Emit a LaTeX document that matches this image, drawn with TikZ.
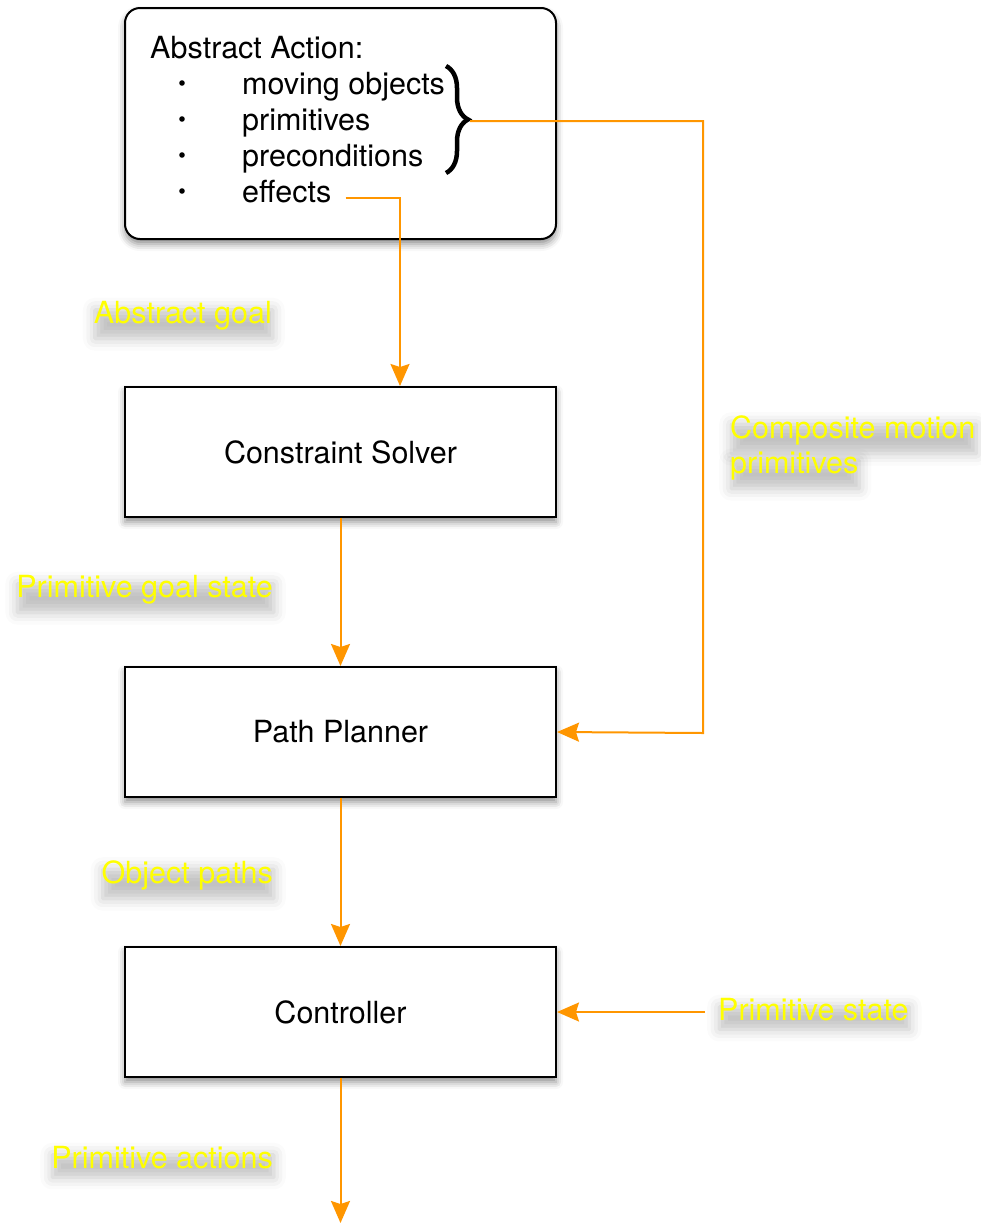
\documentclass[tikz,border=0pt]{standalone}
\usepackage{fontspec}
\setmainfont{TeX Gyre Heros}
\usetikzlibrary{arrows.meta,calc,decorations.pathreplacing,shadows.blur}

\definecolor{floworange}{RGB}{255,150,0}
\definecolor{labelyellow}{RGB}{255,255,0}

\begin{document}
\begin{tikzpicture}[x=1pt,y=-1pt,
  box/.style={draw=black, line width=2pt, fill=white, minimum width=431pt, minimum height=130pt,
    font=\fontsize{30.5}{36}\selectfont,
    blur shadow={shadow xshift=0pt, shadow yshift=-5pt, shadow blur radius=7pt, shadow opacity=45}},
  txt/.style={inner sep=0pt, font=\fontsize{30.5}{36}\selectfont},
  lbl/.style={inner sep=0pt, text=labelyellow, draw=white, draw opacity=0,
    font=\fontsize{30.5}{36}\selectfont,
    blur shadow={shadow xshift=1pt, shadow yshift=-9pt, shadow blur radius=12pt, shadow opacity=24}},
  flow/.style={draw=floworange, line width=2pt, -{Stealth[length=22pt,width=19pt,inset=3pt]}}]
  \useasboundingbox (0,0) rectangle (981,1224);

  % boxes
  \node[box, rounded corners=15pt, minimum height=231pt] (act) at (340.5,123.5) {};
  \node[box] (cs) at (340.5,452) {Constraint Solver};
  \node[box] (pp) at (340.5,732) {Path Planner};
  \node[box] (ctl) at (340.5,1012) {Controller};

  % abstract action text
  \node[txt, anchor=base west] (head) at (150,58) {Abstract Action:};
  \foreach \name/\y/\item in {mov/94/moving objects, prim/130/primitives, pre/166/preconditions, eff/202/effects}{
    \fill (182,\y-11) circle (2.8);
    \node[txt, anchor=base west] (\name) at (242,\y) {\item};
  }
  \draw[decorate, decoration={brace, amplitude=22pt}, line width=4.5pt] (446,66) -- (446,173);
  \coordinate (brace) at (470,121);
  \coordinate (turn) at (703,733);
  \coordinate (out) at (340.5,1223);

  % connectors
  \draw[flow] ([shift={(14,-4)}]eff.base east) -| ([xshift=59.5]cs.north);
  \draw[flow] (cs.south) -- (pp.north);
  \draw[flow] (pp.south) -- (ctl.north);
  \draw[flow] (ctl.south) -- (out);
  \draw[flow] (brace) -| (turn) -- (pp.east);

  % labels
  \node[lbl, anchor=base east] (ag) at (272,323) {Abstract goal};
  \node[lbl, anchor=base east] (pgs) at (273,597) {Primitive goal state};
  \node[lbl, anchor=base east] (op) at (273,883) {Object paths};
  \node[lbl, anchor=base east] (pa) at (273,1168) {Primitive actions};
  \node[lbl, anchor=base west] (cm) at (730,438) {Composite motion};
  \node[lbl, anchor=base west] (cmp) at (730,473) {primitives};
  \node[lbl, anchor=base west] (ps) at (718,1020) {Primitive state};
  \draw[flow, shorten <=13pt] (ps.west |- ctl.east) -- (ctl.east);
\end{tikzpicture}
\end{document}
